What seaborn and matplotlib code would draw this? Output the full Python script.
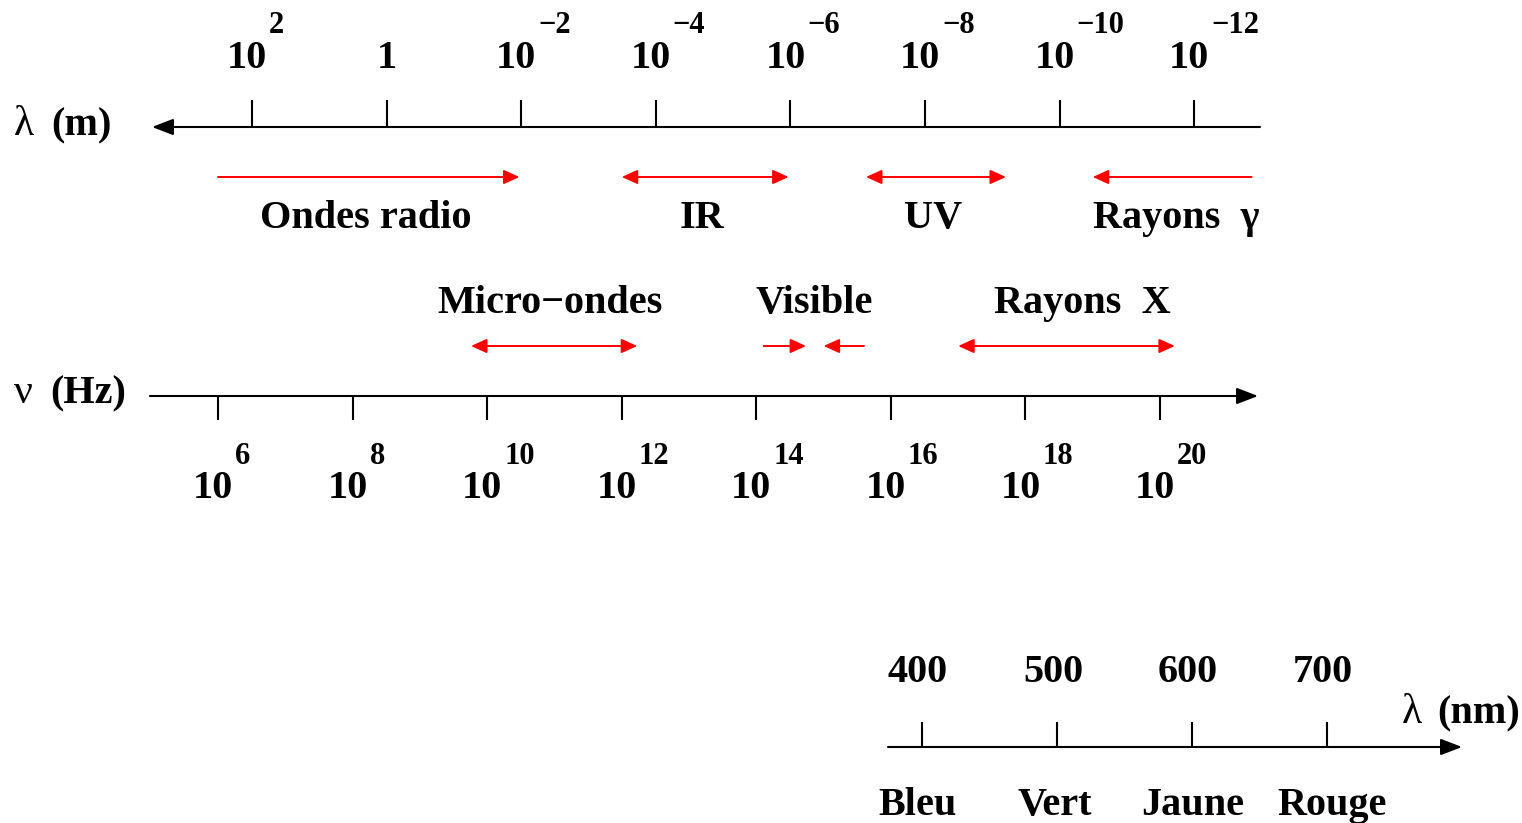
import numpy as np
import pandas as pd
import seaborn as sns
import matplotlib
matplotlib.use("Agg")
import matplotlib.pyplot as plt

# ---------------- data ----------------
lambda_exponents = [2, 0, -2, -4, -6, -8, -10, -12]        # wavelength ticks, 10^n m
freq_exponents = [6, 8, 10, 12, 14, 16, 18, 20]             # frequency ticks, 10^n Hz
visible_nm = [400, 500, 600, 700]                           # visible wavelength ticks (nm)
colour_names = ["Bleu", "Vert", "Jaune", "Rouge"]

# bands, expressed in log10(frequency / Hz)
top_bands = ["Ondes radio", "IR", "UV", "Rayons  γ"]
top_start = [6.0, 12.0, 15.63, 19.0]
top_end = [10.48, 14.48, 17.71, 21.36]
top_heads = ["end", "both", "both", "start"]

low_bands = ["Micro−ondes", "Rayons  X"]
low_start = [9.76, 17.0]
low_end = [12.23, 20.22]

visible_band = "Visible"
visible_left = [14.11, 14.74]    # tail, head (pointing right)
visible_right = [15.6, 15.0]     # tail, head (pointing left)

C_LIGHT = 2.998e8

# ---------------- layout (pixels) ----------------
W, H = 1522, 823
PX_PER_DEC = 67.29
X0_PX = 218.0            # pixel of 10^6 Hz
LAM_SHIFT_PX = 2.0
PX_PER_NM = 1.35
NM0_PX = 922.0           # pixel of 400 nm
COLOUR_LABEL_SHIFT_PX = [-4, -2, 1, 5]

E_LEFT = freq_exponents[0] - X0_PX / PX_PER_DEC
E_RIGHT = freq_exponents[0] + (W - X0_PX) / PX_PER_DEC
NM_LEFT = visible_nm[0] - NM0_PX / PX_PER_NM
NM_RIGHT = visible_nm[0] + (W - NM0_PX) / PX_PER_NM


def e_of_px(px):
    return freq_exponents[0] + (px - X0_PX) / PX_PER_DEC


def de(px):
    return px / PX_PER_DEC


def dnm(px):
    return px / PX_PER_NM


sns.set_theme(style="white")
plt.rcParams["font.family"] = ["Liberation Serif", "DejaVu Serif"]
plt.rcParams["font.weight"] = "bold"
plt.rcParams["text.color"] = "black"

fig = plt.figure(figsize=(W / 100, H / 100), dpi=100)
ax = fig.add_axes([0, 0, 1, 1])
ax.set_xlim(E_LEFT, E_RIGHT)
ax.set_ylim(H, 0)
ax.set_axis_off()

ax2 = fig.add_axes([0, 0, 1, 1])
ax2.set_xlim(NM_LEFT, NM_RIGHT)
ax2.set_ylim(H, 0)
ax2.set_axis_off()

BIG = 29
SUP = 22
BLACK_LW = 1.5
RED_LW = 1.4
black_head = "-|>,head_length=13,head_width=5"
red_head_r = "-|>,head_length=9.5,head_width=4.3"
red_head_both = "<|-|>,head_length=9.5,head_width=4.3"
red_head_l = "<|-,head_length=9.5,head_width=4.3"


def arrow(axis, x0, x1, y, style, color, lw):
    axis.annotate("", xy=(x1, y), xytext=(x0, y),
                  arrowprops=dict(arrowstyle=style, color=color, lw=lw,
                                  shrinkA=0, shrinkB=0, mutation_scale=1))


# ---------------- wavelength axis (top) ----------------
Y_LAM = 127
arrow(ax, e_of_px(1260), e_of_px(152), Y_LAM, black_head, "black", BLACK_LW)
lam_pos = [np.log10(C_LIGHT) - n + de(LAM_SHIFT_PX) for n in lambda_exponents]
ax.vlines(lam_pos, Y_LAM - 27, Y_LAM, color="black", lw=BLACK_LW)
for n, x in zip(lambda_exponents, lam_pos):
    if n == 0:
        ax.text(x, 68, "1", ha="center", va="baseline", fontsize=BIG)
    else:
        ax.text(x - de(5), 68, "10", ha="center", va="baseline", fontsize=BIG)
        ax.text(x + de(17), 33, str(n).replace("-", "−"), ha="left",
                va="baseline", fontsize=SUP)
ax.text(e_of_px(14), 135, "λ", ha="left", va="baseline", fontsize=BIG + 1,
        fontweight="normal")
ax.text(e_of_px(51), 135, "(m)", ha="left", va="baseline", fontsize=BIG)

# ---------------- frequency axis ----------------
Y_NU = 396
arrow(ax, e_of_px(150), e_of_px(1258), Y_NU, black_head, "black", BLACK_LW)
ax.vlines(freq_exponents, Y_NU, Y_NU + 24, color="black", lw=BLACK_LW)
for n in freq_exponents:
    ax.text(n - de(5), 498, "10", ha="center", va="baseline", fontsize=BIG)
    ax.text(n + de(17), 464, str(n), ha="left", va="baseline", fontsize=SUP)
ax.text(e_of_px(14), 403, "ν", ha="left", va="baseline", fontsize=BIG + 1,
        fontweight="normal")
ax.text(e_of_px(50), 403, "(Hz)", ha="left", va="baseline", fontsize=BIG)

# ---------------- bands, row 1 ----------------
Y_R1 = 177
styles = {"end": red_head_r, "both": red_head_both, "start": red_head_l}
for name, s, e, h in zip(top_bands, top_start, top_end, top_heads):
    arrow(ax, s, e, Y_R1, styles[h], "red", RED_LW)
    if h == "start":
        ax.text(s, 228, name, ha="left", va="baseline", fontsize=BIG)
    else:
        ax.text((s + e) / 2 - de(3), 228, name, ha="center", va="baseline",
                fontsize=BIG)

# ---------------- bands, row 2 ----------------
Y_R2 = 346
for name, s, e in zip(low_bands, low_start, low_end):
    arrow(ax, s, e, Y_R2, red_head_both, "red", RED_LW)
    shift = 16 if "X" in name else -4
    ax.text((s + e) / 2 + de(shift), 313, name, ha="center", va="baseline",
            fontsize=BIG)
arrow(ax, visible_left[0], visible_left[1], Y_R2, red_head_r, "red", RED_LW)
arrow(ax, visible_right[0], visible_right[1], Y_R2, red_head_r, "red", RED_LW)
ax.text((visible_left[0] + visible_right[0]) / 2, 313, visible_band,
        ha="center", va="baseline", fontsize=BIG)

# ---------------- visible (nm) axis ----------------
Y_NM = 747
arrow(ax2, visible_nm[0] - dnm(34), visible_nm[0] + dnm(540), Y_NM,
      black_head, "black", BLACK_LW)
ax2.vlines(visible_nm, Y_NM - 25, Y_NM, color="black", lw=BLACK_LW)
for v, cname, sh in zip(visible_nm, colour_names, COLOUR_LABEL_SHIFT_PX):
    ax2.text(v - dnm(4), 682, str(v), ha="center", va="baseline", fontsize=BIG)
    ax2.text(v + dnm(sh), 815, cname, ha="center", va="baseline", fontsize=BIG)
ax2.text(visible_nm[0] + dnm(1402 - NM0_PX), 723, "λ", ha="left",
         va="baseline", fontsize=BIG + 1, fontweight="normal")
ax2.text(visible_nm[0] + dnm(1437 - NM0_PX), 723, "(nm)", ha="left",
         va="baseline", fontsize=BIG)

fig.savefig("out.png", dpi=100, facecolor="white")
